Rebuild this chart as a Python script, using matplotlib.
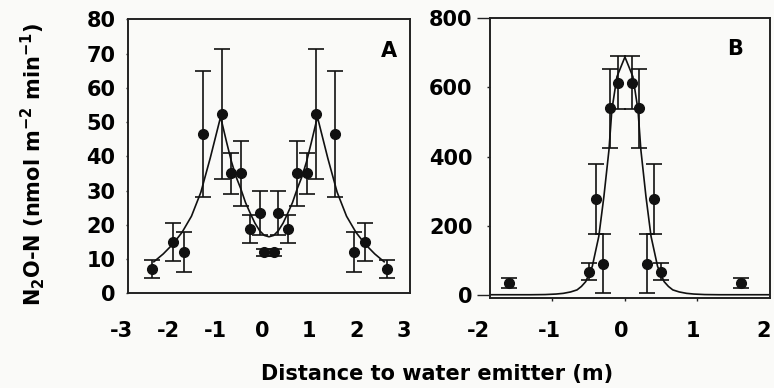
import numpy as np
import matplotlib
matplotlib.use("Agg")
import matplotlib.pyplot as plt

# ---- panel A data -------------------------------------------------------
a_x = [-2.5, -2.05, -1.8, -1.4, -1.0, -0.8, -0.6, -0.4, -0.2, -0.1,
       0.1, 0.2, 0.4, 0.6, 0.8, 1.0, 1.4, 1.8, 2.05, 2.5]
a_y = [7.0, 14.9, 12.0, 46.5, 52.3, 35.0, 35.0, 18.8, 23.5, 12.0,
       12.0, 23.5, 18.8, 35.0, 35.0, 52.3, 46.5, 12.0, 14.9, 7.0]
a_err = [2.6, 5.6, 5.9, 18.3, 19.0, 6.0, 9.5, 4.2, 6.4, 1.0,
         1.0, 6.4, 4.2, 9.5, 6.0, 19.0, 18.3, 5.9, 5.6, 2.6]

# fitted curve
a_cx = [-2.45, -2.25, -2.05, -1.85, -1.65, -1.45, -1.25, -1.03, -0.9, -0.8,
        -0.7, -0.6, -0.5, -0.4, -0.3, -0.2, -0.1, 0.0,
        0.1, 0.2, 0.3, 0.4, 0.5, 0.6, 0.7, 0.8, 0.9, 1.03,
        1.25, 1.45, 1.65, 1.85, 2.05, 2.25, 2.45]
a_cy = [9.2, 11.5, 14.3, 17.8, 22.5, 29.5, 39.5, 51.5, 44.0, 38.5,
        34.0, 30.5, 26.5, 23.4, 20.5, 18.3, 16.9, 16.5,
        16.9, 18.3, 20.5, 23.4, 26.5, 30.5, 34.0, 38.5, 44.0, 51.5,
        39.5, 29.5, 22.5, 17.8, 14.3, 11.5, 9.2]

# ---- panel B data -------------------------------------------------------
b_x = [-1.6, -0.5, -0.4, -0.3, -0.2, -0.1, 0.1, 0.2, 0.3, 0.4, 0.5, 1.6]
b_y = [34, 67, 277, 90, 540, 614, 614, 540, 90, 277, 67, 34]
b_err = [15, 24, 101, 85, 114, 76, 76, 114, 85, 101, 24, 15]

b_cx = [-1.86, -1.3, -1.1, -0.95, -0.85, -0.75, -0.66, -0.6, -0.54, -0.45,
        -0.36, -0.29, -0.22, -0.18, -0.11, 0.0,
        0.11, 0.18, 0.22, 0.29, 0.36, 0.45, 0.54, 0.6, 0.66,
        0.75, 0.85, 0.95, 1.1, 1.3, 2.0]
b_cy = [0, 0, 0.5, 2, 4, 8, 14, 24, 38, 82,
        169, 284, 419, 535, 631, 688,
        631, 535, 419, 284, 169, 82, 38, 24, 14,
        8, 4, 2, 0.5, 0, 0]

a_ticks = [-3, -2, -1, 0, 1, 2, 3]
b_ticks = [-2, -1, 0, 1, 2]

W, H = 774, 388
BG = "#fafaf8"
plt.rcParams["font.family"] = ["DejaVu Sans"]
plt.rcParams["font.weight"] = "bold"
plt.rcParams["mathtext.default"] = "bf"

fig = plt.figure(figsize=(W / 100, H / 100), dpi=100, facecolor=BG)


def box(l, t, r, b):
    """pixel box (left, top, right, bottom) -> figure fraction rect"""
    return [l / W, (H - b) / H, (r - l) / W, (b - t) / H]


ebkw = dict(fmt="o", color="#111111", ms=7, capsize=5.5, elinewidth=1.2,
            capthick=1.2, zorder=3)

# panel A
axA = fig.add_axes(box(128, 19.3, 410, 293.3), facecolor=BG)
axA.errorbar(a_x, a_y, yerr=a_err, **ebkw)
axA.plot(a_cx, a_cy, color="#111111", lw=1.2, zorder=2)
axA.set_xlim(-3, 3)
axA.set_ylim(0, 80)
axA.set_yticks(range(0, 81, 10))
axA.set_xticks([])
axA.text(0.925, 0.885, "A", transform=axA.transAxes, fontsize=15,
         ha="center", va="center")

# panel B
axB = fig.add_axes(box(490, 18.3, 770, 297.5), facecolor=BG)
axB.errorbar(b_x, b_y, yerr=b_err, **ebkw)
axB.plot(b_cx, b_cy, color="#111111", lw=1.2, zorder=2)
axB.set_xlim(-1.86, 2.0)
axB.set_ylim(-8, 800)
axB.set_yticks(range(0, 801, 200))
axB.set_xticks([-1, 0, 1])
axB.set_xticklabels([])
axB.text(0.875, 0.89, "B", transform=axB.transAxes, fontsize=15,
         ha="center", va="center")

for ax, tl, pad in ((axA, 1.5, 7.5), (axB, 2.5, 10)):
    for s in ax.spines.values():
        s.set_linewidth(1.4)
        s.set_color("#222222")
    ax.tick_params(axis="both", direction="out", length=tl, width=1,
                   labelsize=15, color="#222222")
    ax.tick_params(axis="y", pad=pad)
    for lab in ax.get_yticklabels():
        lab.set_fontweight("bold")
ticksB = axB.yaxis.get_major_ticks()
for i in (0, len(ticksB) - 1):
    ticksB[i].tick1line.set_markersize(9.5)

# x tick labels sit slightly offset from the boxes, as in the original
for l, r, ticks in ((121, 403.5, a_ticks), (478, 764, b_ticks)):
    lab = fig.add_axes(box(l, 296, r, 297))
    lab.patch.set_visible(False)
    for s in lab.spines.values():
        s.set_visible(False)
    lab.set_xlim(ticks[0], ticks[-1])
    lab.set_xticks(ticks)
    lab.set_xticklabels([str(t) for t in ticks])
    lab.set_yticks([])
    lab.tick_params(axis="x", length=0, labelsize=15, pad=17)

fig.text(437 / W, (H - 380) / H, "Distance to water emitter (m)",
         ha="center", va="baseline", fontsize=15, fontweight="bold")
fig.text(33 / W, (H - 164) / H,
         r"N$_2$O-N (nmol m$^{-2}$ min$^{-1}$)",
         ha="center", va="center", rotation=90, fontsize=15,
         fontweight="bold")

fig.savefig("out.png", dpi=100, facecolor=BG)
